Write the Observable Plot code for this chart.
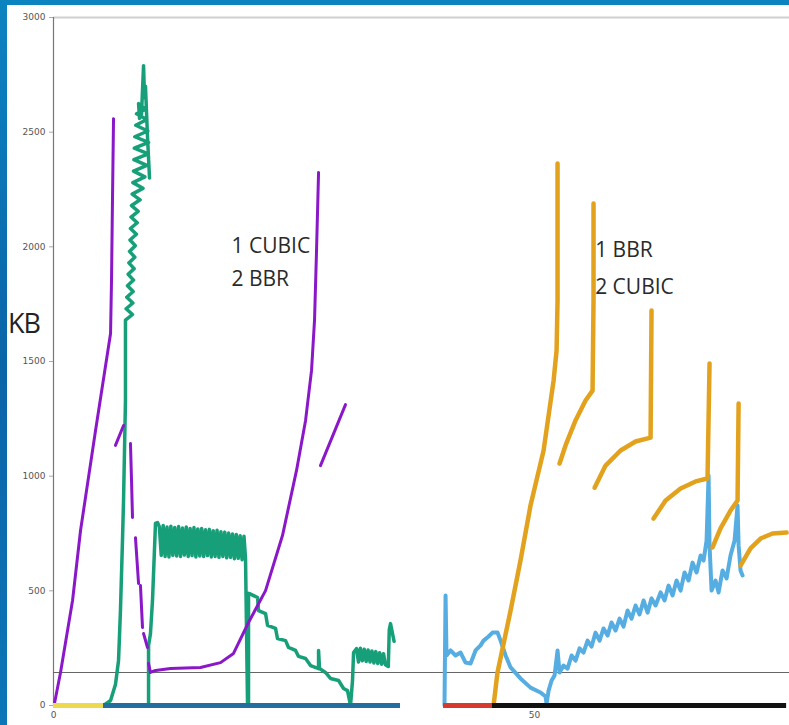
<!DOCTYPE html>
<html>
<head>
<meta charset="utf-8">
<script src="https://cdn.jsdelivr.net/npm/d3@7"></script>
<script src="https://cdn.jsdelivr.net/npm/@observablehq/plot@0.6"></script>
<style>
  html, body { margin: 0; padding: 0; }
  body {
    width: 789px; height: 725px; overflow: hidden; position: relative;
    background: linear-gradient(180deg, #0b84c0 0%, #0a64a8 50%, #0c76b6 100%);
  }
  #panel { position: absolute; left: 7px; top: 5px; width: 782px; height: 720px; background: #fff; }
  #chart { position: absolute; left: 0; top: 0; }
  #kb {
    position: absolute; left: 8px; top: 304px;
    font-family: "Open Sans", sans-serif; font-size: 27px; letter-spacing: -1px; color: #222;
  }
</style>
</head>
<body>
<div id="panel"></div>
<div id="chart"></div>
<div id="kb">KB</div>
<script>
// Time (x) vs. congestion window in KB (y) for two flow pairs.

const xTicks = [0, 50];
const yTicks = [0, 500, 1000, 1500, 2000, 2500, 3000];
const threshold = 144;

// Left experiment: flow 1 CUBIC (purple), flow 2 BBR (green)
const cubicLeft = [
  [[0.10, 9], [0.73, 144], [1.98, 458], [2.81, 763], [4.37, 1199], [5.93, 1622], [6.03, 1853], [6.13, 2202], [6.24, 2559]],
  [[6.44, 1134], [7.28, 1221]],
  [[8.00, 1142], [8.11, 981], [8.21, 820]],
  [[8.52, 732], [8.84, 532]],
  [[9.04, 523], [9.25, 340]],
  [[9.36, 314], [9.77, 253]],
  [[9.88, 183], [10.08, 144], [10.60, 153], [12.16, 161], [15.28, 166], [17.36, 187], [18.71, 227], [20.27, 362],
   [22.04, 501], [23.80, 741], [25.26, 1025], [26.20, 1243], [26.82, 1461], [27.13, 1679], [27.34, 1984], [27.55, 2324]],
  [[27.75, 1046], [30.35, 1312]]
];

const bbrLeft = [
  [[5.20, 0], [5.93, 22], [6.44, 92], [6.76, 196], [6.96, 414], [7.17, 719], [7.28, 894], [7.38, 1112], [7.48, 1330],
   [7.48, 1680], [8.21, 1705], [7.55, 1730], [8.25, 1755], [7.62, 1780], [8.28, 1805], [7.69, 1830], [8.32, 1855],
   [7.76, 1880], [8.38, 1905], [7.83, 1930], [8.45, 1955], [7.90, 1980], [8.50, 2005], [7.95, 2030], [8.62, 2055],
   [8.00, 2080], [8.70, 2105], [8.06, 2130], [8.80, 2155], [8.11, 2180], [9.00, 2205], [8.18, 2230], [9.30, 2255],
   [8.25, 2280], [9.50, 2305], [8.32, 2330], [9.70, 2355], [8.36, 2380], [9.85, 2405], [8.40, 2430], [9.88, 2455],
   [8.45, 2480], [9.80, 2505], [8.55, 2530], [9.70, 2555], [8.63, 2580], [9.56, 2600], [8.84, 2625], [8.94, 2560],
   [9.15, 2580], [9.36, 2790], [9.46, 2650], [9.56, 2700], [9.77, 2480], [9.98, 2300]],
  [[9.88, 0], [9.88, 262], [10.08, 314], [10.29, 458], [10.60, 794], [10.81, 798],
   [11.0, 780], [11.2, 655], [11.4, 785], [11.6, 650], [11.8, 778], [12.0, 648], [12.2, 782], [12.4, 655],
   [12.6, 776], [12.8, 652], [13.0, 780], [13.2, 650], [13.4, 774], [13.6, 656], [13.8, 778], [14.0, 650],
   [14.2, 772], [14.4, 654], [14.6, 776], [14.8, 648], [15.0, 770], [15.2, 652], [15.4, 772], [15.6, 650],
   [15.8, 766], [16.0, 654], [16.2, 768], [16.4, 648], [16.6, 762], [16.8, 650], [17.0, 764], [17.2, 646],
   [17.4, 758], [17.6, 650], [17.8, 756], [18.0, 644], [18.2, 752], [18.4, 646], [18.6, 748], [18.8, 640],
   [19.0, 746], [19.2, 642], [19.4, 740], [19.6, 636], [19.8, 738], [19.96, 640],
   [20.17, 0], [20.27, 0], [20.27, 489], [20.37, 488], [21.21, 471], [21.31, 414], [22.04, 401], [22.25, 349],
   [23.08, 336], [23.28, 292], [24.12, 283], [24.43, 253], [25.16, 240], [25.47, 214], [26.20, 205], [26.72, 174],
   [27.55, 161], [27.55, 240], [27.65, 161], [28.27, 144], [28.79, 118], [29.63, 109], [30.15, 74], [30.56, 65],
   [30.87, 0], [31.08, 109], [31.19, 231], [31.50, 248],
   [31.7, 190], [31.9, 250], [32.1, 195], [32.3, 245], [32.5, 192], [32.7, 242], [32.9, 190], [33.1, 238],
   [33.3, 185], [33.5, 235], [33.7, 183], [33.9, 230], [34.1, 180], [34.3, 226], [34.5, 178], [34.8, 170],
   [34.9, 330], [35.03, 357], [35.3, 300], [35.4, 280]]
];

// Right experiment: flow 1 BBR (light blue), flow 2 CUBIC (orange)
const bbrRight = [
  [[40.64, 0], [40.75, 480], [40.85, 218], [41.27, 240], [41.79, 218], [42.31, 231], [42.83, 187], [43.35, 183],
   [43.87, 240], [44.39, 262], [44.70, 283], [45.22, 301], [45.63, 318], [46.15, 318], [46.47, 283], [46.99, 218],
   [47.51, 166], [48.54, 118], [49.58, 78], [50.62, 57], [51.14, 39], [51.25, 9], [51.46, 65], [51.77, 109],
   [52.08, 131], [52.39, 240], [52.60, 144], [53.01, 174], [53.43, 161], [53.85, 218], [54.26, 196], [54.68, 249],
   [55.09, 231], [55.51, 283], [55.93, 257], [56.34, 318], [56.76, 283], [57.17, 336], [57.59, 305], [58.00, 362],
   [58.42, 327], [58.84, 379], [59.25, 344], [59.67, 414], [60.08, 379], [60.50, 436], [60.91, 397], [61.33, 458],
   [61.75, 405], [62.16, 467], [62.58, 436], [63.10, 493], [63.51, 458], [63.93, 523], [64.35, 480], [64.76, 545],
   [65.18, 501], [65.59, 580], [66.01, 545], [66.42, 623], [66.84, 580], [67.26, 654], [67.57, 632], [67.88, 719],
   [68.09, 1003], [68.19, 698], [68.40, 501], [68.81, 545], [69.13, 493], [69.54, 589], [69.96, 554], [70.37, 654],
   [70.79, 719], [71.10, 872], [71.21, 698], [71.41, 589], [71.62, 567]]
];

const cubicRight = [
  [[45.74, 0], [45.95, 74], [46.15, 144], [47.51, 414], [48.54, 632], [49.58, 872], [50.94, 1112], [51.98, 1417],
   [52.29, 1548], [52.39, 1766], [52.39, 2363]],
  [[52.60, 1055], [53.22, 1134], [54.26, 1243], [55.30, 1330], [56.03, 1373], [56.13, 1766], [56.13, 2189]],
  [[56.24, 950], [57.38, 1046], [58.94, 1112], [60.50, 1151], [62.06, 1168], [62.16, 1722]],
  [[62.37, 815], [63.62, 894], [65.18, 946], [66.74, 977], [67.98, 990], [68.19, 1491]],
  [[68.50, 689], [69.33, 772], [70.37, 850], [71.10, 894], [71.21, 1317]],
  [[71.41, 610], [72.45, 685], [73.49, 728], [74.74, 750], [76.20, 754]]
];

// Idle spans along the zero line
const idleStart = [0, 5.20, 40.54, 45.63];
const idleEnd = [5.20, 36.07, 45.63, 76.20];
const idleColors = ["#ecd94e", "#236e9e", "#d63a2e", "#111111"];

const toRows = (segments) =>
  segments.flatMap((seg, i) => seg.map(([x, y]) => ({x, y, seg: i})));

const idle = idleStart.map((s, i) => ({x1: s, x2: idleEnd[i], color: idleColors[i]}));

const lineOpts = (color, w) => ({
  x: "x", y: "y", z: "seg", stroke: color, strokeWidth: w,
  strokeLinejoin: "round", strokeLinecap: "round"
});

const chart = Plot.plot({
  width: 789,
  height: 725,
  marginLeft: 53,
  marginRight: 0,
  marginTop: 17,
  marginBottom: 20,
  style: {background: "transparent", fontFamily: "DejaVu Sans, sans-serif", fontSize: "9px", color: "#555"},
  x: {domain: [0, 76.5]},
  y: {domain: [0, 3000]},
  marks: [
    Plot.ruleY([3000], {stroke: "#d0d0d0", strokeWidth: 2}),
    Plot.axisY({ticks: yTicks, tickFormat: d => String(d), tickSize: 4, tickPadding: 4, label: null, stroke: "#aaa"}),
    Plot.axisX({ticks: xTicks, tickFormat: d => String(d), tickSize: 3, tickPadding: 3, label: null, stroke: "#888"}),
    Plot.ruleX([0], {stroke: "#777", strokeWidth: 1.2}),
    Plot.ruleY([threshold], {stroke: "#666", strokeWidth: 1.2}),
    Plot.line(toRows(bbrLeft), lineOpts("#169f78", 3.5)),
    Plot.line(toRows(cubicLeft), lineOpts("#8a18c8", 3)),
    Plot.line(toRows(bbrRight), lineOpts("#55ade2", 4)),
    Plot.line(toRows(cubicRight), lineOpts("#e2a21e", 4.5)),
    Plot.ruleY(idle, {y: 0, x1: "x1", x2: "x2", stroke: "color", strokeWidth: 5}),
    Plot.text(["1 CUBIC", "2 BBR"], {
      x: 18.5, y: (d, i) => [2001, 1858][i], text: d => d, textAnchor: "start",
      fontFamily: "Open Sans, sans-serif", fontSize: 21, fill: "#2a2a2a"
    }),
    Plot.text(["1 BBR", "2 CUBIC"], {
      x: 56.3, y: (d, i) => [1984, 1822][i], text: d => d, textAnchor: "start",
      fontFamily: "Open Sans, sans-serif", fontSize: 21, fill: "#2a2a2a"
    })
  ]
});

document.getElementById("chart").append(chart);
</script>
</body>
</html>
